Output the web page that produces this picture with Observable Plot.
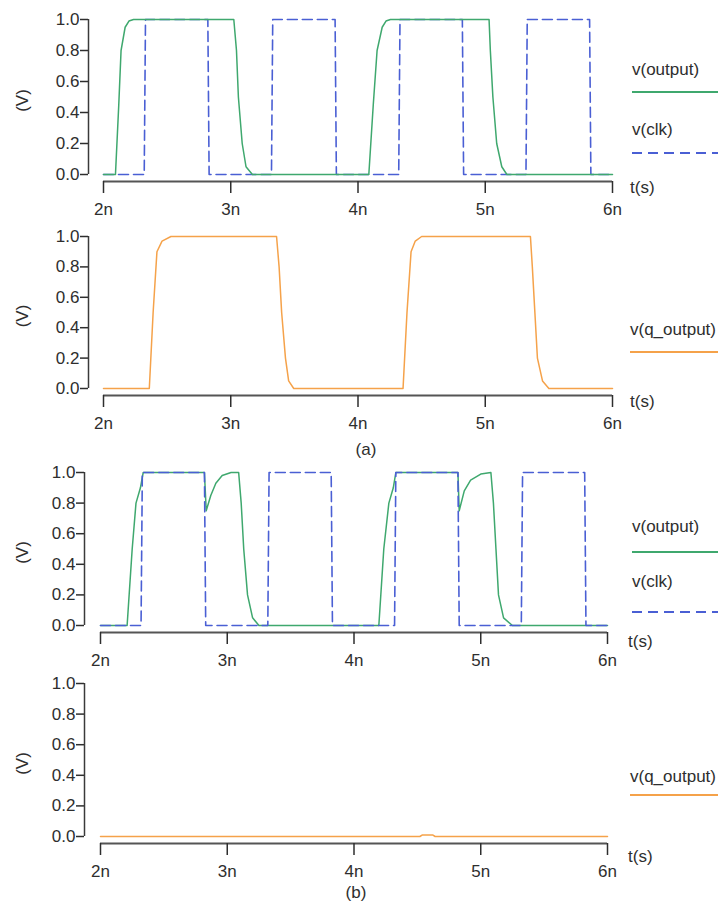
<!DOCTYPE html>
<html>
<head>
<meta charset="utf-8">
<script src="https://cdn.jsdelivr.net/npm/d3@7"></script>
<script src="https://cdn.jsdelivr.net/npm/@observablehq/plot@0.6"></script>
<style>
  html, body { margin: 0; padding: 0; background: #fff; overflow: hidden; }
  #wrap { position: relative; width: 718px; height: 909px; font-family: "Liberation Sans", Arial, sans-serif; color: #2e2e2e; }
  #wrap svg { position: absolute; left: 0; background: transparent !important; }
  .lbl { position: absolute; font-size: 17px; line-height: 1; white-space: nowrap; color: #2e2e2e; }
  .swatch { position: absolute; height: 0; }
</style>
</head>
<body>
<div id="wrap"></div>
<script>
// ---- tick values ----
const xTicks = [2, 3, 4, 5, 6];           // time in ns
const xTickLabels = ["2n", "3n", "4n", "5n", "6n"];
const yTicks = [0, 0.2, 0.4, 0.6, 0.8, 1.0];

// ---- (a) v(clk) ----
const clkA_t = [2, 2.32, 2.33, 2.82, 2.83, 3.32, 3.33, 3.82, 3.83, 4.32, 4.33, 4.82, 4.83, 5.32, 5.33, 5.82, 5.83, 6];
const clkA_v = [0, 0, 1, 1, 0, 0, 1, 1, 0, 0, 1, 1, 0, 0, 1, 1, 0, 0];

// ---- (a) v(output) ----
const outA_t = [2, 2.094, 2.12, 2.138, 2.17, 2.2, 2.236, 3.024, 3.045, 3.06, 3.09, 3.12, 3.17,
                4.085, 4.12, 4.15, 4.19, 4.22, 4.255, 5.03, 5.04, 5.06, 5.09, 5.13, 5.17, 6];
const outA_v = [0, 0, 0.45, 0.8, 0.95, 0.99, 1, 1, 0.8, 0.5, 0.2, 0.05, 0,
                0, 0.45, 0.8, 0.95, 0.99, 1, 1, 0.8, 0.5, 0.2, 0.05, 0, 0];

// ---- (a) v(q_output) ----
const qA_t = [2, 2.36, 2.39, 2.42, 2.46, 2.53, 3.36, 3.38, 3.40, 3.43, 3.455, 3.495,
              4.354, 4.385, 4.417, 4.45, 4.5, 5.355, 5.37, 5.39, 5.41, 5.45, 5.5, 6];
const qA_v = [0, 0, 0.5, 0.9, 0.97, 1, 1, 0.8, 0.5, 0.2, 0.05, 0,
              0, 0.5, 0.9, 0.97, 1, 1, 0.8, 0.5, 0.2, 0.05, 0, 0];

// ---- (b) v(clk) ----
const clkB_t = [2, 2.32, 2.33, 2.82, 2.83, 3.32, 3.33, 3.82, 3.83, 4.32, 4.33, 4.82, 4.83, 5.32, 5.33, 5.82, 5.83, 6];
const clkB_v = [0, 0, 1, 1, 0, 0, 1, 1, 0, 0, 1, 1, 0, 0, 1, 1, 0, 0];

// ---- (b) v(output) ----
const outB_t = [2, 2.21, 2.25, 2.28, 2.315, 2.337, 2.82, 2.834, 2.87, 2.91, 2.96, 3.03, 3.09, 3.11, 3.13, 3.16, 3.2, 3.25,
                4.196, 4.235, 4.275, 4.31, 4.33, 4.82, 4.83, 4.87, 4.92, 5.0, 5.08, 5.10, 5.12, 5.14, 5.18, 5.25, 6];
const outB_v = [0, 0, 0.5, 0.8, 0.9, 1, 1, 0.75, 0.85, 0.93, 0.98, 1, 1, 0.8, 0.5, 0.2, 0.05, 0,
                0, 0.5, 0.8, 0.9, 1, 1, 0.75, 0.88, 0.95, 0.99, 1, 0.8, 0.5, 0.2, 0.05, 0, 0];

// ---- (b) v(q_output) ----
const qB_t = [2, 4.52, 4.54, 4.62, 4.64, 6];
const qB_v = [0, 0, 0.01, 0.01, 0, 0];

// ---- colours ----
const GREEN = "#3fa86e";
const BLUE = "#4a5fd4";
const ORANGE = "#f5a24a";
const AXIS = "#3a3a3a";

const wrap = document.getElementById("wrap");

function rows(t, v) { return t.map((x, i) => ({x, y: v[i]})); }

function lineMark(t, v, color, dashed) {
  return Plot.line(rows(t, v), {
    x: "x", y: "y", stroke: color, strokeWidth: dashed ? 1.6 : 1.5,
    strokeDasharray: dashed ? "10,5" : null, curve: "linear"
  });
}

function panel(cfg) {
  const svg = Plot.plot({
    width: 718,
    height: cfg.height,
    marginTop: cfg.marginTop,
    marginBottom: 40,
    marginLeft: cfg.marginLeft,
    marginRight: cfg.marginRight,
    style: {fontFamily: "'Liberation Sans', Arial, sans-serif", fontSize: "17px", color: "#2e2e2e", background: "transparent"},
    x: {domain: [2, 6], insetLeft: cfg.inset},
    y: {domain: [0, 1], insetBottom: 7},
    marks: [
      Plot.axisY({ticks: yTicks, tickSize: 8, tickPadding: 1, tickFormat: d3.format(".1f"),
        strokeWidth: 1.5, label: "(V)", labelAnchor: "center", labelArrow: "none", labelOffset: cfg.marginLeft - 15}),
      Plot.ruleX([2], {y1: 0, y2: 1, dx: -cfg.inset, stroke: AXIS, strokeWidth: 1.5}),
      Plot.ruleY([0], {x1: 2, x2: 6, dy: 7, stroke: "#555", strokeWidth: 2.2}),
      Plot.axisX({ticks: xTicks, tickSize: 12, tickPadding: 9, strokeWidth: 1.5,
        tickFormat: d => xTickLabels[xTicks.indexOf(d)], label: null}),
      ...cfg.lines
    ]
  });
  svg.style.top = cfg.top + "px";
  wrap.appendChild(svg);
}

panel({top: 0, height: 221, marginTop: 19, marginLeft: 88, marginRight: 106, inset: 15,
  lines: [lineMark(clkA_t, clkA_v, BLUE, true), lineMark(outA_t, outA_v, GREEN, false)]});
panel({top: 220, height: 215, marginTop: 16, marginLeft: 88, marginRight: 106, inset: 15,
  lines: [lineMark(qA_t, qA_v, ORANGE, false)]});
panel({top: 450, height: 222, marginTop: 22, marginLeft: 84, marginRight: 111, inset: 16,
  lines: [lineMark(outB_t, outB_v, GREEN, false), lineMark(clkB_t, clkB_v, BLUE, true)]});
panel({top: 660, height: 223, marginTop: 23, marginLeft: 84, marginRight: 111, inset: 16,
  lines: [lineMark(qB_t, qB_v, ORANGE, false)]});

// ---- legends and captions ----
function text(str, left, cy, center) {
  const d = document.createElement("div");
  d.className = "lbl";
  d.textContent = str;
  d.style.top = (cy - 9) + "px";
  if (center) { d.style.left = (left - 100) + "px"; d.style.width = "200px"; d.style.textAlign = "center"; }
  else d.style.left = left + "px";
  wrap.appendChild(d);
}
function swatch(left, y, color, dashed) {
  const d = document.createElement("div");
  d.className = "swatch";
  d.style.left = left + "px";
  d.style.top = (y - 1) + "px";
  d.style.width = (718 - left) + "px";
  d.style.height = "2px";
  d.style.background = dashed
    ? `repeating-linear-gradient(to right, ${color} 0 10px, transparent 10px 16px)`
    : color;
  wrap.appendChild(d);
}

text("v(output)", 632, 70); swatch(632, 92, GREEN, false);
text("v(clk)", 632, 130); swatch(632, 153, BLUE, true);
text("t(s)", 630, 188);

text("v(q_output)", 630, 330); swatch(630, 352, ORANGE, false);
text("t(s)", 630, 402);
text("(a)", 366, 450, true);

text("v(output)", 632, 527); swatch(632, 552, GREEN, false);
text("v(clk)", 632, 582); swatch(632, 612, BLUE, true);
text("t(s)", 628, 642);

text("v(q_output)", 630, 777); swatch(630, 795, ORANGE, false);
text("t(s)", 628, 857);
text("(b)", 356, 893, true);
</script>
</body>
</html>
